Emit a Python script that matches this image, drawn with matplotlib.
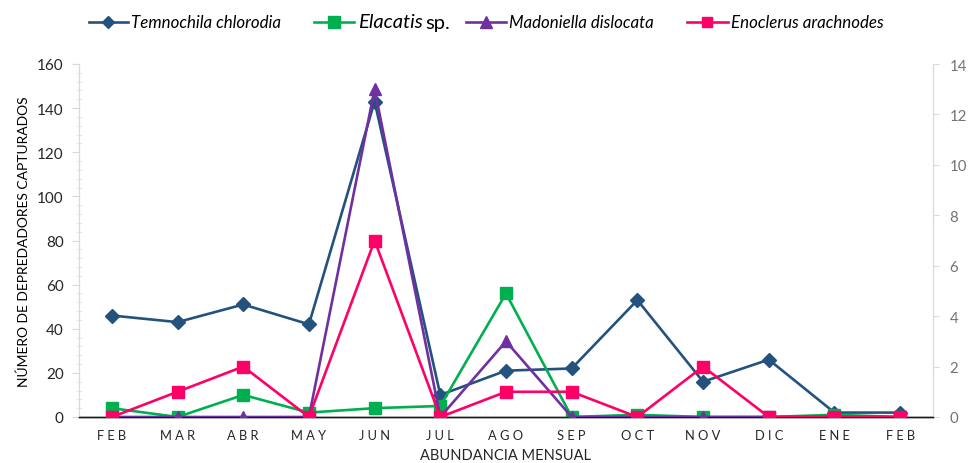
import matplotlib
matplotlib.use("Agg")
import matplotlib.pyplot as plt
from matplotlib.lines import Line2D
from matplotlib.ticker import MultipleLocator

months = ["FEB", "MAR", "ABR", "MAY", "JUN", "JUL", "AGO", "SEP", "OCT", "NOV", "DIC", "ENE", "FEB"]

# primary axis (left)
temnochila = [46, 43, 51, 42, 143, 10, 21, 22, 53, 16, 26, 2, 2]
elacatis = [4, 0, 10, 2, 4, 5, 56, 0, 1, 0, 0, 1, 0]
# secondary axis (right)
madoniella = [0, 0, 0, 0, 13, 0, 3, 0, 0, 0, 0, 0, 0]
enoclerus = [0, 1, 2, 0, 7, 0, 1, 1, 0, 2, 0, 0, 0]

C_TEM = "#24527F"
C_ELA = "#00B050"
C_MAD = "#7030A0"
C_ENO = "#FF0066"

FONT = "Lato"
plt.rcParams["font.family"] = [FONT, "DejaVu Sans"]

W, H = 969, 464
fig = plt.figure(figsize=(W / 100, H / 100), dpi=100)

x0, x1, y0, y1 = 79, 933, 418, 65
ax = fig.add_axes([x0 / W, 1 - y0 / H, (x1 - x0) / W, (y0 - y1) / H])
ax2 = ax.twinx()

x = list(range(len(months)))
lw = 1.9
ax.plot(x, temnochila, color=C_TEM, lw=lw, marker="D", ms=7.5, zorder=3)
ax.plot(x, elacatis, color=C_ELA, lw=lw, marker="s", ms=9, zorder=3)
ax2.plot(x, madoniella, color=C_MAD, lw=lw, marker="^", ms=9, zorder=3)
ax2.plot(x, enoclerus, color=C_ENO, lw=lw, marker="s", ms=8, zorder=4)

ax.set_xlim(-0.5, len(months) - 0.5)
ax.set_ylim(0, 160)
ax2.set_ylim(0, 14)

ax.set_xticks(x)
ax.set_xticklabels([" ".join(m) for m in months], fontsize=9.3, color="#262626")
ax.tick_params(axis="x", length=0, pad=9)

ax.yaxis.set_major_locator(MultipleLocator(20))
ax.yaxis.set_minor_locator(MultipleLocator(4))
ax.tick_params(axis="y", which="major", length=5, color="#D9D9D9", labelsize=11,
               labelcolor="#262626", pad=6)
ax.tick_params(axis="y", which="minor", length=4, color="#E3E3E3", direction="inout")

ax2.yaxis.set_major_locator(MultipleLocator(2))
ax2.tick_params(axis="y", which="major", length=4, color="#D9D9D9", labelsize=10.8,
                labelcolor="#737373", pad=8)

for a in (ax, ax2):
    a.spines["top"].set_visible(False)
    a.spines["left"].set_color("#D9D9D9")
    a.spines["right"].set_color("#D9D9D9")
    a.spines["bottom"].set_color("#1a1a1a")
    a.spines["bottom"].set_linewidth(1.0)
    a.set_facecolor("none")

ax.set_ylabel("NÚMERO DE DEPREDADORES CAPTURADOS", fontsize=10, color="black", labelpad=5)
ax.set_xlabel("ABUNDANCIA MENSUAL", fontsize=10.5, color="#262626", labelpad=5)

# legend row drawn in pixel coordinates
lg = fig.add_axes([0, 0, 1, 1])
lg.set_xlim(0, W)
lg.set_ylim(H, 0)
lg.axis("off")
ly = 23
entries = [
    (89, 128, C_TEM, "D", 6.5, "Temnochila chlorodia", 131),
    (314, 354, C_ELA, "s", 8.5, None, 358),
    (466, 506, C_MAD, "^", 8.5, "Madoniella dislocata", 509),
    (687, 728, C_ENO, "s", 7.5, "Enoclerus arachnodes", 731),
]
for xa, xb, col, mk, ms, label, tx in entries:
    lg.add_line(Line2D([xa, xb], [ly, ly], color=col, lw=lw))
    lg.add_line(Line2D([(xa + xb) / 2], [ly], color=col, marker=mk, ms=ms, lw=0))
    if label:
        lg.text(tx, ly, label, fontsize=12.2, style="italic", va="center", ha="left",
                color="black")

t = lg.text(358, ly, "Elacatis", fontsize=14.5, style="italic", va="center", ha="left",
            color="black")
fig.canvas.draw()
bb = t.get_window_extent()
lg.text(358 + bb.width + 3, ly, "sp.", fontsize=14.5, va="center", ha="left", color="black")

fig.savefig("out.png", dpi=100)
